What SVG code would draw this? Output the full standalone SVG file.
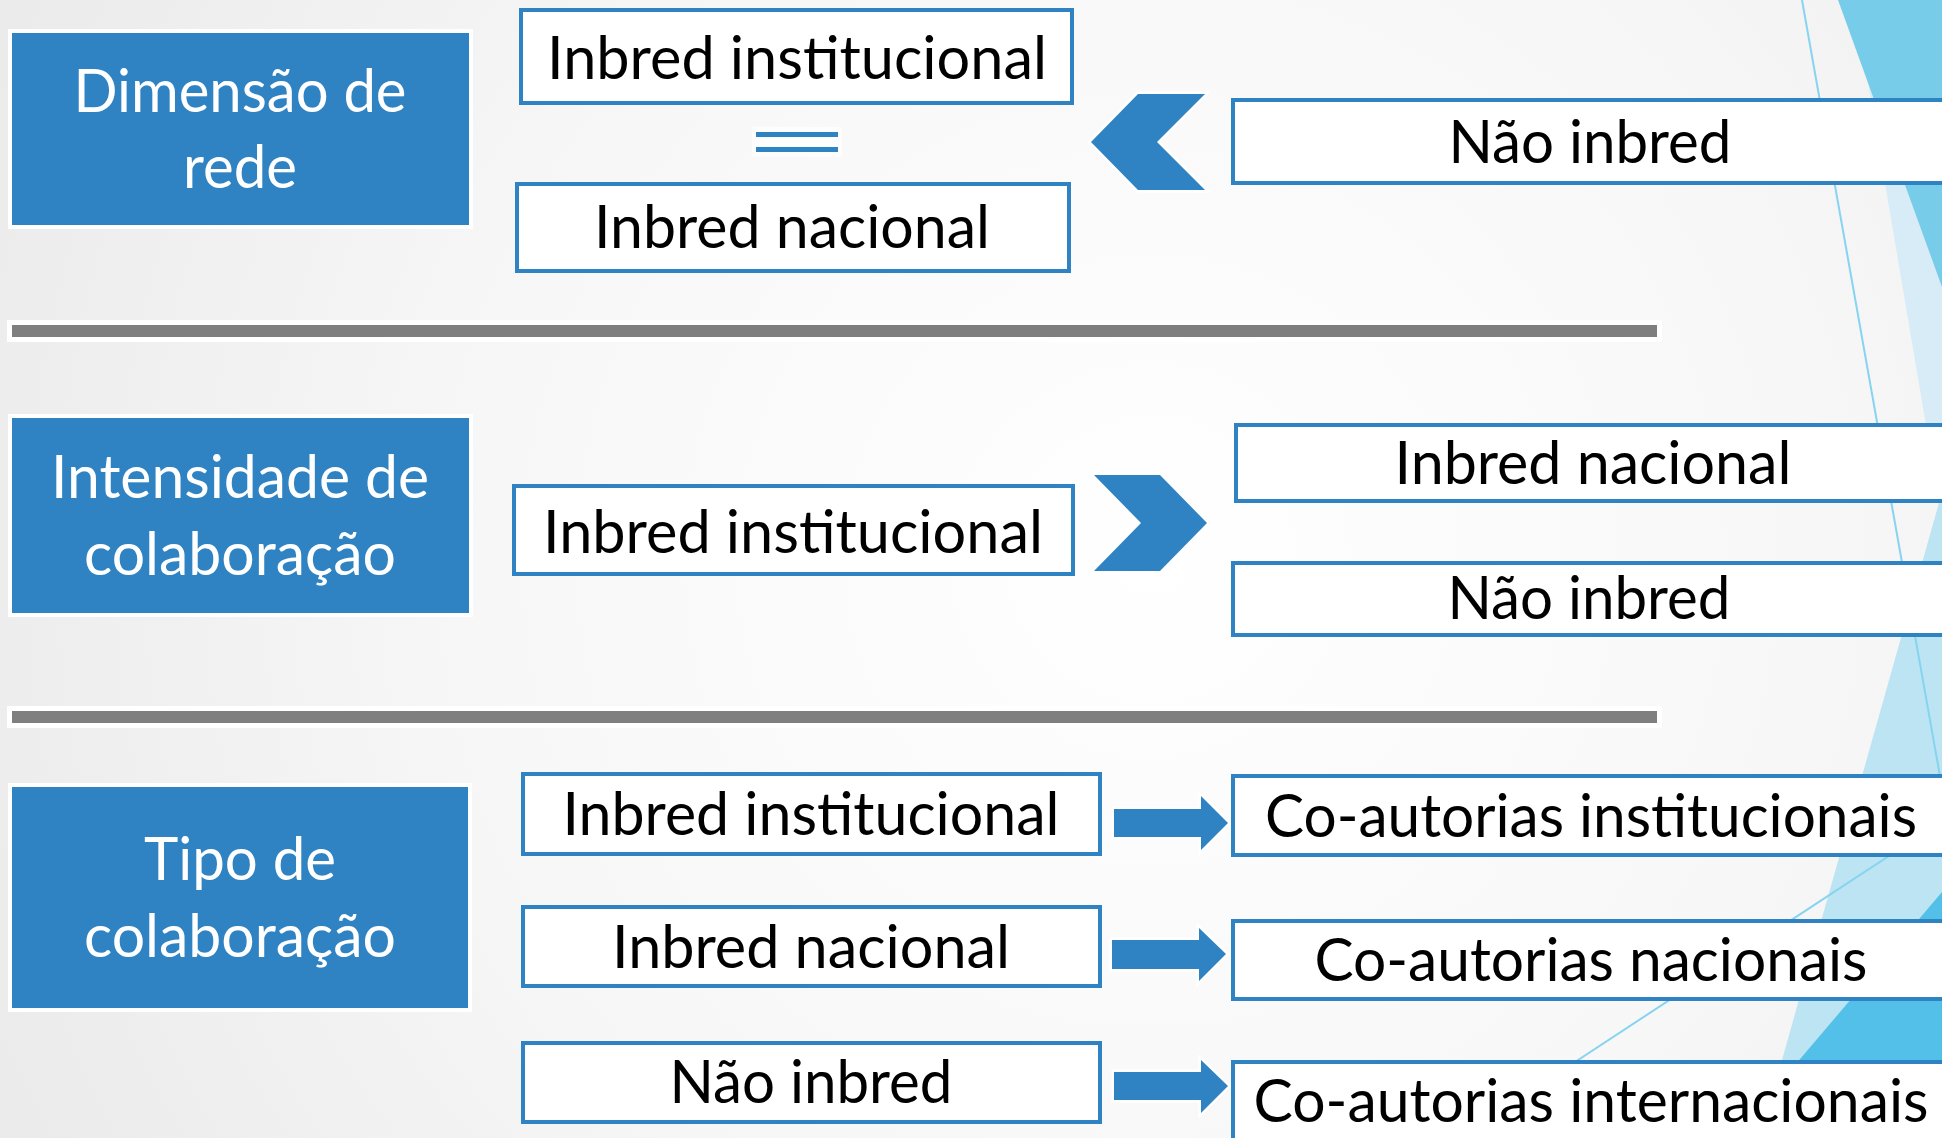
<svg xmlns="http://www.w3.org/2000/svg" width="1942" height="1138" viewBox="0 0 1942 1138">
<defs>
<radialGradient id="bg" cx="1150" cy="560" r="1250" gradientUnits="userSpaceOnUse">
<stop offset="0" stop-color="#FFFFFF"/>
<stop offset="0.55" stop-color="#F7F7F7"/>
<stop offset="1" stop-color="#EBEBEB"/>
</radialGradient>
<style>
.cat{fill:#2F83C3;stroke:#FFFFFF;stroke-width:8;paint-order:stroke}
.lbl{fill:#FFFFFF;stroke:#2F83C3;stroke-width:4}
.sep{fill:#7F7F7F;stroke:#FFFFFF;stroke-width:10;paint-order:stroke}
.con{fill:#2F83C3;stroke:#FFFFFF;stroke-width:5;stroke-linejoin:miter;paint-order:stroke}
.wt{font-family:Lato,"Open Sans","Liberation Sans",sans-serif;font-size:60px;fill:#FFFFFF;text-anchor:middle}
.bt{font-family:Lato,"Open Sans","Liberation Sans",sans-serif;font-size:60px;fill:#000000;text-anchor:middle}
.thin{fill:none;stroke:#86D4F0;stroke-width:2}
</style>
</defs>
<rect x="0" y="0" width="1942" height="1138" fill="url(#bg)"/>
<g id="decoration">
<polygon points="1854,0 1942,0 1942,520" fill="#D7ECF6"/>
<polygon points="1946,478 1760,1138 1942,1138" fill="#BDE4F2"/>
<polygon points="1838,0 1942,0 1942,287" fill="#77CCEA"/>
<polygon points="1942,892 1733,1138 1942,1138" fill="#52C0E8"/>
<line class="thin" x1="1802" y1="0" x2="1946" y2="810"/>
<line class="thin" x1="1962" y1="808" x2="1540" y2="1085"/>
</g>
<g id="separators">
<rect class="sep" x="12" y="325" width="1645" height="12"/>
<rect class="sep" x="12" y="711" width="1645" height="12"/>
</g>
<g id="connectors">
<polygon id="chevron-left" class="con" points="1091,142 1138,94 1205,94 1157,142 1205,190 1138,190"/>
<polygon id="chevron-right" class="con" points="1094,475 1160,475 1207,523 1160,571 1094,571 1141,523"/>
<g id="equals">
<rect x="752" y="127" width="90" height="30" fill="#FFFFFF" opacity="0.7"/>
<rect x="756" y="132" width="82" height="5" fill="#2F83C3"/>
<rect x="756" y="147" width="82" height="5" fill="#2F83C3"/>
</g>
<polygon id="arrow1" class="con" points="1114,809 1201,809 1201,796 1228,823 1201,850 1201,837 1114,837"/>
<polygon id="arrow2" class="con" points="1112,940 1199,940 1199,928 1226,954 1199,981 1199,969 1112,969"/>
<polygon id="arrow3" class="con" points="1114,1072 1201,1072 1201,1060 1228,1086 1201,1113 1201,1100 1114,1100"/>
</g>
<g id="cat-dimensao">
<rect class="cat" x="12" y="33" width="457" height="192"/>
<text class="wt" x="240" y="112" textLength="333" lengthAdjust="spacingAndGlyphs">Dimensão de</text>
<text class="wt" x="240" y="188" textLength="114" lengthAdjust="spacingAndGlyphs">rede</text>
</g>
<g id="cat-intensidade">
<rect class="cat" x="12" y="418" width="457" height="195"/>
<text class="wt" x="240" y="498" textLength="378" lengthAdjust="spacingAndGlyphs">Intensidade de</text>
<text class="wt" x="240" y="575" textLength="312" lengthAdjust="spacingAndGlyphs">colaboração</text>
</g>
<g id="cat-tipo">
<rect class="cat" x="12" y="787" width="456" height="221"/>
<text class="wt" x="240" y="880" textLength="192" lengthAdjust="spacingAndGlyphs">Tipo de</text>
<text class="wt" x="240" y="957" textLength="312" lengthAdjust="spacingAndGlyphs">colaboração</text>
</g>
<g id="r1-inst">
<rect class="lbl" x="521" y="10" width="551" height="93"/>
<text class="bt" x="797" y="79" textLength="500" lengthAdjust="spacingAndGlyphs">Inbred institucional</text>
</g>
<g id="r1-nac">
<rect class="lbl" x="517" y="184" width="552" height="87"/>
<text class="bt" x="792" y="248" textLength="396" lengthAdjust="spacingAndGlyphs">Inbred nacional</text>
</g>
<g id="r1-nao">
<rect class="lbl" x="1233" y="100" width="740" height="83"/>
<text class="bt" x="1590" y="163" textLength="283" lengthAdjust="spacingAndGlyphs">Não inbred</text>
</g>
<g id="r2-inst">
<rect class="lbl" x="514" y="486" width="559" height="88"/>
<text class="bt" x="793" y="553" textLength="500" lengthAdjust="spacingAndGlyphs">Inbred institucional</text>
</g>
<g id="r2-nac">
<rect class="lbl" x="1236" y="425" width="740" height="76"/>
<text class="bt" x="1593" y="484" textLength="397" lengthAdjust="spacingAndGlyphs">Inbred nacional</text>
</g>
<g id="r2-nao">
<rect class="lbl" x="1233" y="563" width="740" height="72"/>
<text class="bt" x="1589" y="619" textLength="283" lengthAdjust="spacingAndGlyphs">Não inbred</text>
</g>
<g id="r3-inst">
<rect class="lbl" x="523" y="774" width="577" height="80"/>
<text class="bt" x="811" y="835" textLength="497" lengthAdjust="spacingAndGlyphs">Inbred institucional</text>
</g>
<g id="r3-nac">
<rect class="lbl" x="523" y="907" width="577" height="79"/>
<text class="bt" x="811" y="968" textLength="398" lengthAdjust="spacingAndGlyphs">Inbred nacional</text>
</g>
<g id="r3-nao">
<rect class="lbl" x="523" y="1043" width="577" height="79"/>
<text class="bt" x="811" y="1103" textLength="283" lengthAdjust="spacingAndGlyphs">Não inbred</text>
</g>
<g id="r3-coinst">
<rect class="lbl" x="1233" y="776" width="740" height="79"/>
<text class="bt" x="1591" y="837" textLength="652" lengthAdjust="spacingAndGlyphs">Co-autorias institucionais</text>
</g>
<g id="r3-conac">
<rect class="lbl" x="1233" y="921" width="740" height="78"/>
<text class="bt" x="1591" y="981" textLength="553" lengthAdjust="spacingAndGlyphs">Co-autorias nacionais</text>
</g>
<g id="r3-cointer">
<rect class="lbl" x="1233" y="1062" width="740" height="120"/>
<text class="bt" x="1591" y="1122" textLength="675" lengthAdjust="spacingAndGlyphs">Co-autorias internacionais</text>
</g>
</svg>
